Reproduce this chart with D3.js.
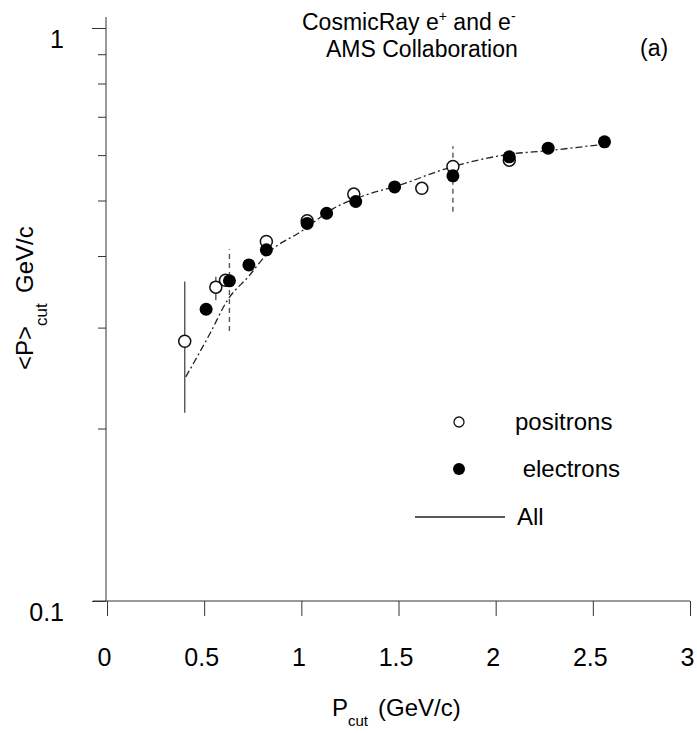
<!DOCTYPE html>
<html>
<head>
<meta charset="utf-8">
<script src="https://cdn.jsdelivr.net/npm/d3@7"></script>
<style>
  html, body { margin: 0; padding: 0; background: #fff; }
  svg { display: block; font-family: "Liberation Sans", Arial, Helvetica, sans-serif; }
</style>
</head>
<body>
<svg id="chart" width="697" height="733"></svg>
<script>
// ---- data ----
const xTickValues = [0, 0.5, 1, 1.5, 2, 2.5, 3];
const xTickLabels = ["0", "0.5", "1", "1.5", "2", "2.5", "3"];
const yTickValues = [0.1, 0.2, 0.3, 0.4, 0.5, 0.6, 0.7, 0.8, 0.9, 1];
const yMajorTicks = [0.1, 1];
const yMajorLabels = ["0.1", "1"];

const positronP = [0.40, 0.56, 0.61, 0.82, 1.03, 1.27, 1.62, 1.78, 2.07];
const positronMean = [0.284, 0.353, 0.363, 0.424, 0.461, 0.513, 0.525, 0.573, 0.588];

const electronP = [0.51, 0.63, 0.73, 0.82, 1.03, 1.13, 1.28, 1.48, 1.78, 2.07, 2.27, 2.56];
const electronMean = [0.323, 0.362, 0.386, 0.410, 0.456, 0.475, 0.498, 0.528, 0.552, 0.596, 0.617, 0.633];

// error bars
const errP = [0.40, 0.56, 0.63, 1.78];
const errLow = [0.213, 0.335, 0.296, 0.478];
const errHigh = [0.361, 0.368, 0.411, 0.622];
const errDashed = [false, false, true, true];

const allP = [0.405, 0.53, 0.62, 0.73, 0.82, 1.01, 1.16, 1.33, 1.50, 1.75, 2.07, 2.27, 2.56];
const allMean = [0.246, 0.293, 0.335, 0.369, 0.402, 0.444, 0.483, 0.511, 0.531, 0.569, 0.602, 0.611, 0.627];

const legendLabels = ["positrons", " electrons", "All"];

// ---- drawing ----
const svg = d3.select("#chart");
svg.append("rect").attr("width", 697).attr("height", 733).attr("fill", "#fff");

const x = d3.scaleLinear().domain([0, 3]).range([107, 690]);
const y = d3.scaleLog().domain([0.1, 1]).range([601, 28]);

const axisColor = "#333";

// X axis
const xAxis = d3.axisBottom(x)
  .tickValues(xTickValues)
  .tickSize(15)
  .tickPadding(32)
  .tickFormat((d, i) => xTickLabels[i]);
const gx = svg.append("g").attr("transform", `translate(0,${y(0.1)})`).call(xAxis);
gx.select(".domain").attr("d", `M${x(0) - 14},0H${x(3)}`).attr("stroke", axisColor);
gx.selectAll(".tick line").attr("stroke", axisColor);
gx.selectAll(".tick text")
  .attr("fill", "#000")
  .attr("font-size", 25)
  .attr("font-family", '"Liberation Sans", Arial, sans-serif')
  .attr("dx", -3);

// Y axis
const yAxis = d3.axisLeft(y)
  .tickValues(yTickValues)
  .tickSize(8)
  .tickPadding(33)
  .tickFormat(d => {
    const k = yMajorTicks.findIndex(v => Math.abs(v - d) < 1e-9);
    return k >= 0 ? yMajorLabels[k] : "";
  });
const gy = svg.append("g").attr("transform", `translate(106,0)`).call(yAxis);
gy.select(".domain").attr("d", `M0,17V${y(0.1)}`).attr("stroke", axisColor);
gy.selectAll(".tick line")
  .attr("stroke", axisColor)
  .attr("x2", d => yMajorTicks.some(v => Math.abs(v - d) < 1e-9) ? -14 : -8);
gy.selectAll(".tick text")
  .attr("fill", "#000")
  .attr("font-size", 25)
  .attr("font-family", '"Liberation Sans", Arial, sans-serif')
  .attr("dy", 19)
  .attr("x", -42);

// "All" curve (dash-dot)
const line = d3.line()
  .x(d => x(d[0]))
  .y(d => y(d[1]))
  .curve(d3.curveMonotoneX);
svg.append("path")
  .datum(allP.map((p, i) => [p, allMean[i]]))
  .attr("d", line)
  .attr("fill", "none")
  .attr("stroke", "#222")
  .attr("stroke-width", 1.3)
  .attr("stroke-dasharray", "7,3,2,3");

// error bars
svg.append("g").selectAll("line")
  .data(errP.map((p, i) => ({ p, lo: errLow[i], hi: errHigh[i], dashed: errDashed[i] })))
  .join("line")
  .attr("x1", d => x(d.p)).attr("x2", d => x(d.p))
  .attr("y1", d => y(d.lo)).attr("y2", d => y(d.hi))
  .attr("stroke", "#555")
  .attr("stroke-width", 1.4)
  .attr("stroke-dasharray", d => d.dashed ? "5,4" : null);

// positrons (open)
svg.append("g").selectAll("circle")
  .data(positronP.map((p, i) => [p, positronMean[i]]))
  .join("circle")
  .attr("cx", d => x(d[0])).attr("cy", d => y(d[1]))
  .attr("r", 6)
  .attr("fill", "#fff")
  .attr("stroke", "#111")
  .attr("stroke-width", 1.5);

// electrons (filled)
svg.append("g").selectAll("circle")
  .data(electronP.map((p, i) => [p, electronMean[i]]))
  .join("circle")
  .attr("cx", d => x(d[0])).attr("cy", d => y(d[1]))
  .attr("r", 6.5)
  .attr("fill", "#000");

// Title
const title = svg.append("g").attr("font-size", 23).attr("fill", "#000");
const t1 = title.append("text").attr("x", 302).attr("y", 30);
t1.append("tspan").text("CosmicRay e");
t1.append("tspan").attr("font-size", 14).attr("dy", -9).text("+");
t1.append("tspan").attr("dy", 9).text(" and e");
t1.append("tspan").attr("font-size", 14).attr("dy", -9).text("-");
title.append("text").attr("x", 326).attr("y", 57).text("AMS Collaboration");
title.append("text").attr("x", 640).attr("y", 56).text("(a)");

// Legend
const lg = svg.append("g").attr("font-size", 24).attr("fill", "#000");
lg.append("circle").attr("cx", 459).attr("cy", 422).attr("r", 5)
  .attr("fill", "#fff").attr("stroke", "#111").attr("stroke-width", 1.3);
lg.append("text").attr("x", 515).attr("y", 430).text(legendLabels[0]);
lg.append("circle").attr("cx", 459).attr("cy", 469).attr("r", 6).attr("fill", "#000");
lg.append("text").attr("x", 516).attr("y", 477).style("white-space", "pre").text(legendLabels[1]);
lg.append("line").attr("x1", 415).attr("x2", 505).attr("y1", 517).attr("y2", 517)
  .attr("stroke", "#222").attr("stroke-width", 1.3);
lg.append("text").attr("x", 517).attr("y", 525).text(legendLabels[2]);

// X axis label
const xl = svg.append("text").attr("y", 716).attr("font-size", 24).attr("fill", "#000");
xl.append("tspan").attr("x", 332).text("P");
xl.append("tspan").attr("x", 348).attr("dy", 10).attr("font-size", 15).text("cut");
xl.append("tspan").attr("x", 378).attr("dy", -10).text("(GeV/c)");

// Y axis label (rotated)
const yl = svg.append("text")
  .attr("transform", "translate(33,370) rotate(-90)")
  .attr("font-size", 24).attr("fill", "#000");
yl.append("tspan").attr("x", 0).text("<P>");
yl.append("tspan").attr("x", 44).attr("dy", 14).attr("font-size", 17).text("cut");
yl.append("tspan").attr("x", 77).attr("dy", -14).text("GeV/c");
</script>
</body>
</html>
